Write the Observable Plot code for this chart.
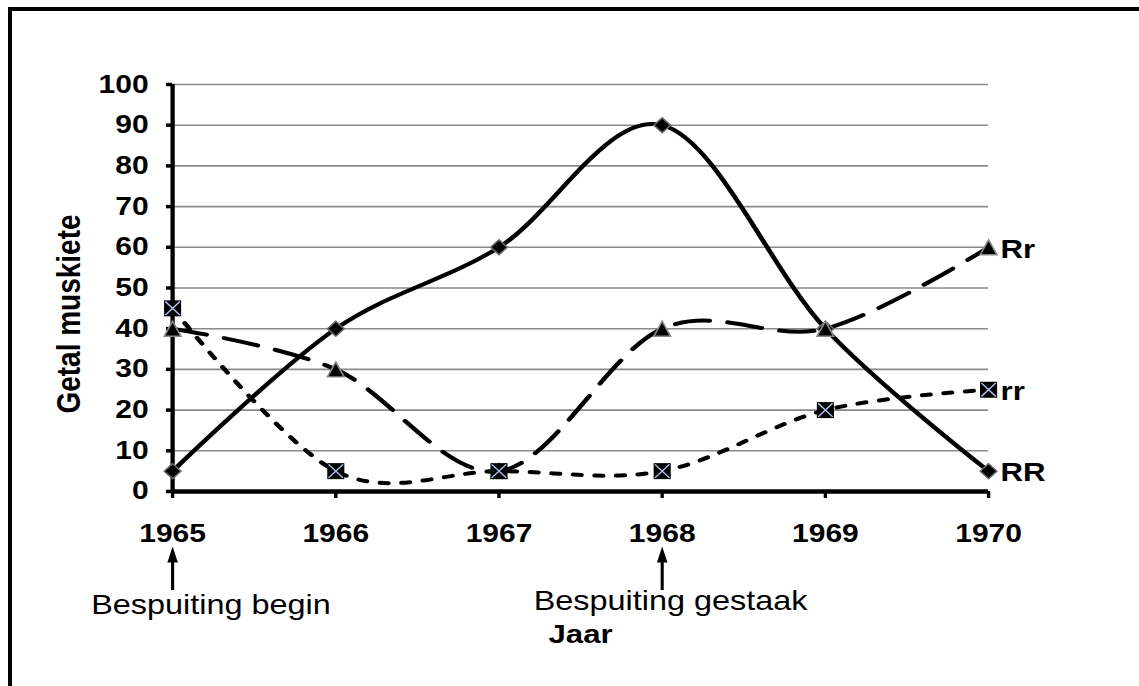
<!DOCTYPE html>
<html>
<head>
<meta charset="utf-8">
<script src="https://cdn.jsdelivr.net/npm/d3@7"></script>
<script src="https://cdn.jsdelivr.net/npm/@observablehq/plot@0.6"></script>
<style>
  html, body { margin: 0; padding: 0; background: white; overflow: hidden; }
  #wrap { position: relative; width: 1139px; height: 686px; overflow: hidden; background: white; }
  #frame { position: absolute; left: 8px; top: 7px; width: 2000px; height: 2000px;
           border-left: 4px solid black; border-top: 4px solid black; box-sizing: border-box; pointer-events: none; }
  #chart { position: absolute; left: 0; top: 0; }
</style>
</head>
<body>
<div id="wrap">
  <div id="chart"></div>
  <div id="frame"></div>
</div>
<script>
// ---- data ----
const years = [1965, 1966, 1967, 1968, 1969, 1970];
const seriesNames = ["RR", "Rr", "rr"];
const valuesRR = [5, 40, 60, 90, 40, 5];
const valuesRr = [40, 30, 5, 40, 40, 60];
const valuesrr = [45, 5, 5, 5, 20, 25];
const yTicks = [0, 10, 20, 30, 40, 50, 60, 70, 80, 90, 100];
const xTicks = years;
const yLabel = "Getal muskiete";
const xLabel = "Jaar";
const annotationYears = [1965, 1968];
const annotationTexts = ["Bespuiting begin", "Bespuiting gestaak"];

const toRows = (name, vals) => years.map((yr, i) => ({series: name, year: yr, value: vals[i]}));
const rowsRR = toRows("RR", valuesRR);
const rowsRr = toRows("Rr", valuesRr);
const rowsrr = toRows("rr", valuesrr);
const lastRows = [rowsRr, rowsrr, rowsRR].map(r => r[r.length - 1]);

// ---- custom symbols ----
const rad = size => Math.sqrt(size / Math.PI);
const symDiamond = {draw(c, size) { const r = rad(size); c.moveTo(0, -r); c.lineTo(0.92 * r, 0); c.lineTo(0, r); c.lineTo(-0.92 * r, 0); c.closePath(); }};
const symTriangle = {draw(c, size) { const r = rad(size); c.moveTo(0, -r); c.lineTo(0.93 * r, r); c.lineTo(-0.93 * r, r); c.closePath(); }};
const symSquare = {draw(c, size) { const r = rad(size), w = 0.89 * r; c.moveTo(-w, -r); c.lineTo(w, -r); c.lineTo(w, r); c.lineTo(-w, r); c.closePath(); }};
const symCross = {draw(c, size) { const r = rad(size), w = 0.89 * r; c.moveTo(-w, -r); c.lineTo(w, r); c.moveTo(w, -r); c.lineTo(-w, r); }};
const symArrowHead = {draw(c, size) { const r = rad(size); c.moveTo(0, -2 * r); c.lineTo(0.55 * r, 0); c.lineTo(-0.55 * r, 0); c.closePath(); }};

const SX = 1.2; // horizontal stretch of the reference
const W = 1139 / SX;

const plot = Plot.plot({
  width: W,
  height: 686,
  marginLeft: 172 / SX,
  marginRight: W - 988 / SX,
  marginTop: 84,
  marginBottom: 195,
  x: {domain: [1965, 1970]},
  y: {domain: [0, 100]},
  style: {fontFamily: "'Liberation Sans', Arial, sans-serif", fontWeight: "bold", fontSize: "25px", background: "white", overflow: "visible", maxWidth: "none"},
  marks: [
    Plot.gridY(yTicks, {stroke: "#8a8a8a", strokeOpacity: 1, strokeWidth: 1.6}),
    Plot.axisY({ticks: yTicks, tickSize: 5, tickPadding: 15, strokeWidth: 3.5, label: null, tickFormat: d => String(d)}),
    Plot.axisX({ticks: xTicks, tickSize: 7, tickPadding: 26, strokeWidth: 2.8, label: null, tickFormat: d => String(d)}),
    Plot.ruleY([0], {strokeWidth: 4.5}),
    Plot.ruleX([1965], {strokeWidth: 3.6}),
    // lines
    Plot.line(rowsrr, {x: "year", y: "value", curve: "cardinal", stroke: "black", strokeWidth: 4, strokeDasharray: "7,11", strokeLinecap: "round"}),
    Plot.line(rowsRr, {x: "year", y: "value", curve: "cardinal", stroke: "black", strokeWidth: 4, strokeDasharray: "29,15", strokeLinecap: "round"}),
    Plot.line(rowsRR, {x: "year", y: "value", curve: "cardinal", stroke: "black", strokeWidth: 4}),
    // markers
    Plot.dot(rowsRR, {x: "year", y: "value", symbol: symDiamond, r: 7.5, fill: "black", stroke: "#6a6a6a", strokeWidth: 1.4}),
    Plot.dot(rowsRr, {x: "year", y: "value", symbol: symTriangle, r: 7.5, fill: "black", stroke: "#8a8a8a", strokeWidth: 1.4}),
    Plot.dot(rowsrr, {x: "year", y: "value", symbol: symSquare, r: 8, fill: "black", stroke: "none"}),
    Plot.dot(rowsrr, {x: "year", y: "value", symbol: symCross, r: 6.8, fill: "none", stroke: "#a9c3ee", strokeWidth: 1.3}),
    // series labels
    Plot.text(lastRows, {x: "year", y: "value", text: "series", textAnchor: "start", lineAnchor: "middle", dx: 10, dy: 2, fontSize: 26, fontWeight: "bold"}),
    // axis titles
    Plot.text([yLabel], {frameAnchor: "left", rotate: -90, textAnchor: "middle", lineAnchor: "middle", dx: -86, dy: 26, fontSize: 28, fontWeight: "bold"}),
    Plot.text([xLabel], {frameAnchor: "bottom", textAnchor: "middle", lineAnchor: "middle", dy: 143, fontSize: 26, fontWeight: "bold"}),
    // annotations with arrows
    Plot.ruleX(annotationYears, {strokeWidth: 2.6, insetTop: 474, insetBottom: -99}),
    Plot.dot(annotationYears, {x: d => d, frameAnchor: "bottom", dy: 71, symbol: symArrowHead, r: 8, fill: "black", stroke: "none"}),
    Plot.text([annotationYears[0]], {x: d => d, frameAnchor: "bottom", textAnchor: "middle", lineAnchor: "middle", text: [annotationTexts[0]], dx: 32, dy: 114, fontSize: 27, fontWeight: "normal"}),
    Plot.text([annotationYears[1]], {x: d => d, frameAnchor: "bottom", textAnchor: "middle", lineAnchor: "middle", text: [annotationTexts[1]], dx: 7, dy: 110, fontSize: 27, fontWeight: "normal"})
  ]
});
plot.style.transform = `scaleX(${SX})`;
plot.style.transformOrigin = "0 0";
plot.style.maxWidth = "none";
document.getElementById("chart").appendChild(plot);
</script>
</body>
</html>
